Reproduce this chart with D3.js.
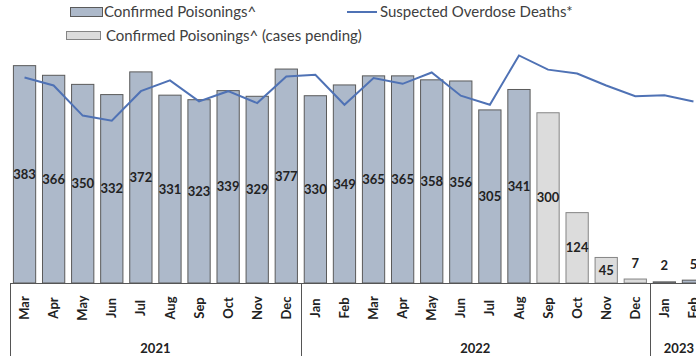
<!DOCTYPE html>
<html>
<head>
<meta charset="utf-8">
<script src="https://cdn.jsdelivr.net/npm/d3@7"></script>
<style>
  body { margin: 0; background: #fff; }
  svg { display: block; font-family: Lato, "Open Sans", sans-serif; }
</style>
</head>
<body>
<svg></svg>
<script>
// months shown on the x axis, with the year each belongs to
let months = ['Mar','Apr','May','Jun','Jul','Aug','Sep','Oct','Nov','Dec',
              'Jan','Feb','Mar','Apr','May','Jun','Jul','Aug','Sep','Oct','Nov','Dec',
              'Jan','Feb']
let monthYears = ['2021','2021','2021','2021','2021','2021','2021','2021','2021','2021',
                  '2022','2022','2022','2022','2022','2022','2022','2022','2022','2022','2022','2022',
                  '2023','2023']
let years = ['2021','2022','2023']

// confirmed poisonings (bars)
let poisonings = [383,366,350,332,372,331,323,339,329,377,
                  330,349,365,365,358,356,305,341,300,124,45,7,
                  2,5]
// true where cases are still pending
let pending = [false,false,false,false,false,false,false,false,false,false,
               false,false,false,false,false,false,false,false,true,true,true,true,
               false,false]
// suspected overdose deaths (line, no scale shown)
let deaths = [362,348,295,286,338,357,320,338,317,364,
              367,314,361,351,371,330,314,401,376,369,348,329,
              331,320]

let width = 696
let height = 356
let baseline = 283

let svg = d3.select('svg')
    .attr('width', width)
    .attr('height', height)

let keys = months.map((m, i) => i)

let xScale = d3.scaleBand()
    .domain(keys)
    .range([10, 708])
    .paddingInner(0.2)
    .paddingOuter(0.1)

let yScale = d3.scaleLinear()
    .domain([0, 400])
    .range([baseline, 56])

let yLineScale = d3.scaleLinear()
    .domain([0, 400])
    .range([baseline, 56])

let barFill = '#adb9ca'
let barStroke = '#5a5a5a'
let pendFill = '#dcdcdc'
let pendStroke = '#858585'
let lineColor = '#4f72b5'

// bars
svg.selectAll('rect.bar')
    .data(poisonings)
    .enter()
    .append('rect')
    .attr('class', 'bar')
    .attr('x', (d, i) => xScale(i) + 0.5)
    .attr('y', d => yScale(d))
    .attr('width', xScale.bandwidth() - 1)
    .attr('height', d => baseline - yScale(d))
    .attr('fill', (d, i) => pending[i] ? pendFill : barFill)
    .attr('stroke', (d, i) => pending[i] ? pendStroke : barStroke)
    .attr('stroke-width', 1)

// bar labels
svg.selectAll('text.val')
    .data(poisonings)
    .enter()
    .append('text')
    .attr('class', 'val')
    .attr('x', (d, i) => xScale(i) + xScale.bandwidth() / 2)
    .attr('y', d => (baseline - yScale(d)) > 18 ? (yScale(d) + baseline) / 2 : yScale(d) - 16)
    .attr('dy', '0.35em')
    .attr('text-anchor', 'middle')
    .attr('font-size', 13)
    .attr('font-weight', 'bold')
    .attr('fill', '#222')
    .text(d => d)

// deaths line
let line = d3.line()
    .x((d, i) => xScale(i) + xScale.bandwidth() / 2)
    .y(d => yLineScale(d))

svg.append('path')
    .datum(deaths)
    .attr('d', line)
    .attr('fill', 'none')
    .attr('stroke', lineColor)
    .attr('stroke-width', 2)

// x axis box
let step = xScale.step()
let gap = step - xScale.bandwidth()
let axis = svg.append('g').attr('stroke', '#555').attr('stroke-width', 1)

axis.append('line')
    .attr('x1', xScale(0) - gap / 2)
    .attr('x2', width)
    .attr('y1', baseline + 0.5)
    .attr('y2', baseline + 0.5)

let yearStarts = years.map(y => monthYears.indexOf(y))
let yearEnds = years.map(y => monthYears.lastIndexOf(y))

yearStarts.forEach(i => {
    let xx = Math.round(xScale(i) - gap / 2) + 0.5
    axis.append('line')
        .attr('x1', xx).attr('x2', xx)
        .attr('y1', baseline).attr('y2', height)
})

// month labels
svg.selectAll('text.month')
    .data(months)
    .enter()
    .append('text')
    .attr('class', 'month')
    .attr('transform', (d, i) => 'translate(' + (xScale(i) + xScale.bandwidth() / 2) + ',308) rotate(-90)')
    .attr('dy', '0.35em')
    .attr('text-anchor', 'middle')
    .attr('font-size', 13)
    .attr('font-weight', 'bold')
    .attr('fill', '#222')
    .text(d => d)

// year labels
svg.selectAll('text.year')
    .data(years)
    .enter()
    .append('text')
    .attr('class', 'year')
    .attr('x', (d, k) => {
        let a = xScale(yearStarts[k]) - gap / 2
        let b = xScale(yearEnds[k]) + xScale.bandwidth() + gap / 2
        return (a + b) / 2
    })
    .attr('y', 348)
    .attr('dy', '0.35em')
    .attr('text-anchor', 'middle')
    .attr('font-size', 13)
    .attr('font-weight', 'bold')
    .attr('fill', '#222')
    .text(d => d)

// legend
let legend = svg.append('g').attr('font-size', 15).attr('fill', '#404040')

legend.append('rect')
    .attr('x', 70.5).attr('y', 7.5).attr('width', 32).attr('height', 9)
    .attr('fill', barFill).attr('stroke', barStroke)
legend.append('text')
    .attr('x', 104).attr('y', 12).attr('dy', '0.35em')
    .text('Confirmed Poisonings^')

legend.append('line')
    .attr('x1', 347).attr('x2', 377).attr('y1', 12).attr('y2', 12)
    .attr('stroke', lineColor).attr('stroke-width', 2)
legend.append('text')
    .attr('x', 380).attr('y', 12).attr('dy', '0.35em')
    .text('Suspected Overdose Deaths*')

legend.append('rect')
    .attr('x', 66.5).attr('y', 31.5).attr('width', 34).attr('height', 8)
    .attr('fill', pendFill).attr('stroke', pendStroke)
legend.append('text')
    .attr('x', 106).attr('y', 36).attr('dy', '0.35em')
    .text('Confirmed Poisonings^ (cases pending)')
</script>
</body>
</html>
